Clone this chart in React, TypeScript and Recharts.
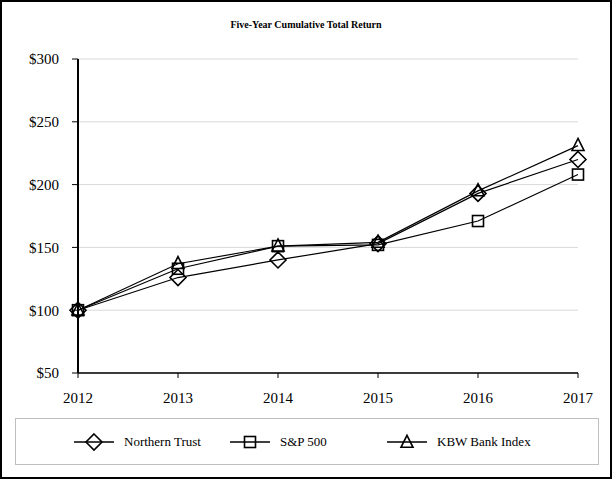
import React from 'react'
import { LineChart, Line, XAxis, YAxis, CartesianGrid } from 'recharts'

const years = ['2012', '2013', '2014', '2015', '2016', '2017']
const northernTrust = [100, 126, 140, 153, 193, 220]
const sp500 = [100, 133, 151, 152, 171, 208]
const kbwBank = [100, 137, 151, 154, 195, 231]
const yTicks = [50, 100, 150, 200, 250, 300]

const data = years.map((year, i) => ({
	year,
	nt: northernTrust[i],
	sp: sp500[i],
	kbw: kbwBank[i],
}))

const serif = '"Liberation Serif", "Times New Roman", serif'

type Shape = 'diamond' | 'square' | 'triangle'

const Marker = ({ shape, cx, cy }: { shape: Shape; cx: number; cy: number }) => {
	const common = { fill: 'none', stroke: '#000', strokeWidth: 1.6 }
	if (shape === 'diamond') {
		const r = 8
		return <path d={`M${cx},${cy - r}L${cx + r},${cy}L${cx},${cy + r}L${cx - r},${cy}Z`} {...common} />
	}
	if (shape === 'square') {
		const r = 5.5
		return <rect x={cx - r} y={cy - r} width={r * 2} height={r * 2} {...common} />
	}
	const h = 12
	const w = 12
	return <path d={`M${cx},${cy - h * 0.6}L${cx + w / 2},${cy + h * 0.4}L${cx - w / 2},${cy + h * 0.4}Z`} {...common} />
}

const dot = (shape: Shape) => (props: any) => (
	<Marker key={`${shape}-${props.index}`} shape={shape} cx={props.cx} cy={props.cy} />
)

const legendItems: { label: string; shape: Shape; x: number }[] = [
	{ label: 'Northern Trust', shape: 'diamond', x: 57 },
	{ label: 'S&P 500', shape: 'square', x: 213 },
	{ label: 'KBW Bank Index', shape: 'triangle', x: 370 },
]

export default function App() {
	return (
		<div
			style={{
				position: 'absolute',
				left: 0,
				top: 0,
				width: 612,
				height: 479,
				border: '2px solid #000',
				boxSizing: 'border-box',
				background: '#fff',
				fontFamily: serif,
			}}
		>
			<div
				style={{
					position: 'absolute',
					top: 17,
					left: 0,
					width: '100%',
					textAlign: 'center',
					fontWeight: 'bold',
					fontSize: 10,
					color: '#000',
				}}
			>
				Five-Year Cumulative Total Return
			</div>
			<div style={{ position: 'absolute', left: -2, top: -2 }}>
				<LineChart width={613} height={420} data={data} margin={{ top: 59, right: 35, bottom: 17, left: 0 }}>
					<CartesianGrid vertical={false} stroke="#d9d9d9" />
					<XAxis
						dataKey="year"
						axisLine={{ stroke: '#000', strokeWidth: 1.5 }}
						tickLine={{ stroke: '#000' }}
						tickSize={5}
						tickMargin={14}
						tick={{ fill: '#000', fontSize: 15, fontFamily: serif }}
						interval={0}
					/>
					<YAxis
						width={78}
						domain={[50, 300]}
						ticks={yTicks}
						tickFormatter={(v) => `$${v}`}
						axisLine={{ stroke: '#000', strokeWidth: 2 }}
						tickLine={{ stroke: '#000' }}
						tickSize={6}
						tickMargin={13}
						tick={{ fill: '#000', fontSize: 15, fontFamily: serif }}
					/>
					<Line dataKey="nt" stroke="#000" strokeWidth={1.2} dot={dot('diamond')} isAnimationActive={false} />
					<Line dataKey="sp" stroke="#000" strokeWidth={1.2} dot={dot('square')} isAnimationActive={false} />
					<Line dataKey="kbw" stroke="#000" strokeWidth={1.2} dot={dot('triangle')} isAnimationActive={false} />
				</LineChart>
			</div>
			<div
				style={{
					position: 'absolute',
					left: 13,
					top: 416,
					width: 584,
					height: 47,
					border: '1px solid #bfbfbf',
					boxSizing: 'border-box',
				}}
			>
				{legendItems.map((item) => (
					<div
						key={item.label}
						style={{ position: 'absolute', left: item.x, top: 13, display: 'flex', alignItems: 'center' }}
					>
						<svg width={42} height={20}>
							<line x1={1} y1={10} x2={41} y2={10} stroke="#000" strokeWidth={1.5} />
							<Marker shape={item.shape} cx={21} cy={item.shape === 'triangle' ? 10.5 : 10} />
						</svg>
						<span style={{ marginLeft: 9, fontSize: 13, color: '#000' }}>{item.label}</span>
					</div>
				))}
			</div>
		</div>
	)
}
